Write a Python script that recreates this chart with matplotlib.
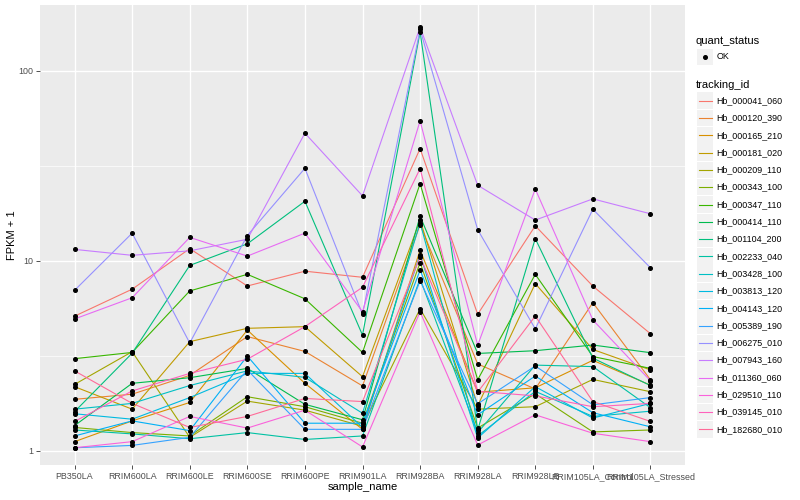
import numpy as np
import matplotlib
matplotlib.use("Agg")
import matplotlib.pyplot as plt
from matplotlib.patches import Rectangle

plt.rcParams['font.family'] = ['Liberation Sans', 'DejaVu Sans']

samples = ["PB350LA", "RRIM600LA", "RRIM600LE", "RRIM600SE", "RRIM600PE", "RRIM901LA",
           "RRIM928BA", "RRIM928LA", "RRIM928LB", "RRIM105LA_Control", "RRIM105LA_Stressed"]

tracking_ids = ["Hb_000041_060", "Hb_000120_390", "Hb_000165_210", "Hb_000181_020",
                "Hb_000209_110", "Hb_000343_100", "Hb_000347_110", "Hb_000414_110",
                "Hb_001104_200", "Hb_002233_040", "Hb_003428_100", "Hb_003813_120",
                "Hb_004143_120", "Hb_005389_190", "Hb_006275_010", "Hb_007943_160",
                "Hb_011360_060", "Hb_029510_110", "Hb_039145_010", "Hb_182680_010"]

# FPKM + 1 per tracking_id, in sample order
hb_000041_060 = [5.12, 7.1, 11.6, 7.38, 8.83, 8.2, 39.0, 5.24, 15.3, 7.37, 4.14]
hb_000120_390 = [1.87, 1.99, 2.5, 4.0, 3.34, 2.2, 15.5, 2.87, 2.12, 6.03, 2.37]
hb_000165_210 = [1.12, 1.44, 1.80, 4.33, 2.27, 1.30, 11.4, 2.04, 2.15, 3.0, 2.22]
hb_000181_020 = [2.18, 1.66, 3.76, 4.42, 4.51, 2.46, 16.4, 1.73, 7.6, 3.42, 2.67]
hb_000209_110 = [2.24, 3.33, 1.18, 1.83, 1.64, 1.35, 5.6, 1.66, 1.71, 2.38, 2.05]
hb_000343_100 = [1.33, 1.25, 1.2, 1.93, 1.71, 1.40, 9.8, 1.32, 2.0, 1.26, 1.29]
hb_000347_110 = [3.06, 3.3, 6.95, 8.5, 6.32, 3.3, 25.5, 2.37, 8.5, 3.14, 2.72]
hb_000414_110 = [1.36, 2.27, 2.43, 2.72, 1.76, 1.46, 17.2, 3.26, 3.37, 3.61, 3.29]
hb_001104_200 = [1.61, 3.27, 9.47, 12.3, 20.6, 4.07, 160.0, 1.29, 13.1, 3.08, 2.21]
hb_002233_040 = [1.29, 1.23, 1.16, 1.25, 1.15, 1.20, 8.05, 1.25, 2.83, 2.78, 1.69]
hb_003428_100 = [1.66, 1.78, 2.21, 2.64, 2.44, 1.58, 15.9, 1.2, 2.06, 1.52, 1.62]
hb_003813_120 = [1.57, 1.47, 1.91, 2.56, 2.56, 1.33, 10.8, 1.17, 2.18, 1.49, 1.78]
hb_004143_120 = [1.20, 1.44, 1.28, 3.16, 1.40, 1.40, 8.95, 1.55, 2.48, 1.59, 1.34]
hb_005389_190 = [1.04, 1.07, 1.18, 2.67, 1.30, 1.30, 7.86, 1.77, 2.8, 1.75, 1.91]
hb_006275_010 = [7.0, 14.0, 3.7, 13.6, 30.7, 5.24, 165.0, 14.6, 4.39, 18.7, 9.2]
hb_007943_160 = [11.5, 10.7, 11.3, 13.0, 47.0, 22.0, 170.0, 25.0, 16.4, 21.2, 17.7]
hb_011360_060 = [4.95, 6.4, 13.3, 10.6, 14.0, 5.4, 54.6, 3.6, 23.9, 4.89, 2.34]
hb_029510_110 = [1.04, 1.12, 1.52, 1.32, 1.64, 1.05, 5.4, 1.075, 1.55, 1.24, 1.12]
hb_039145_010 = [1.43, 2.07, 2.56, 3.04, 4.51, 7.27, 30.6, 2.06, 1.95, 1.71, 1.78]
hb_182680_010 = [2.64, 1.78, 1.33, 1.52, 1.89, 1.82, 10.5, 2.04, 5.13, 1.82, 1.43]

series = [hb_000041_060, hb_000120_390, hb_000165_210, hb_000181_020, hb_000209_110,
          hb_000343_100, hb_000347_110, hb_000414_110, hb_001104_200, hb_002233_040,
          hb_003428_100, hb_003813_120, hb_004143_120, hb_005389_190, hb_006275_010,
          hb_007943_160, hb_011360_060, hb_029510_110, hb_039145_010, hb_182680_010]

colors = ["#F8766D", "#EA8331", "#D89000", "#C09B00", "#A3A500", "#7CAE00", "#39B600",
          "#00BB4E", "#00BF7D", "#00C1A3", "#00BFC4", "#00BAE0", "#00B0F6", "#35A2FF",
          "#9590FF", "#C77CFF", "#E76BF3", "#FA62DB", "#FF62BC", "#FF6A98"]

W, H = 800, 500
fig = plt.figure(figsize=(8, 5), dpi=100)
ax = fig.add_axes([40 / W, 1 - 465 / H, (685 - 40) / W, (465 - 5) / H])
ax.set_facecolor("#EBEBEB")
ax.set_yscale("log")
ax.set_ylim(0.844, 222)
ax.set_xlim(-0.6, len(samples) - 0.4)

# grid
for v in [10 ** 0.5, 10 ** 1.5]:
    ax.axhline(v, color="white", lw=0.5, zorder=0)
for v in [1, 10, 100]:
    ax.axhline(v, color="white", lw=1.0, zorder=0)
for i in range(len(samples)):
    ax.axvline(i, color="white", lw=1.0, zorder=0)

x = np.arange(len(samples))
for vals, c in zip(series, colors):
    ax.plot(x, vals, color=c, lw=0.8, zorder=2)
for vals in series:
    ax.plot(x, vals, linestyle="none", marker="o", ms=2.6, color="black", zorder=3)

for s in ax.spines.values():
    s.set_visible(False)
ax.set_xticks(x)
ax.set_xticklabels(samples)
ax.set_yticks([1, 10, 100])
ax.set_yticklabels(["1", "10", "100"])
ax.yaxis.set_minor_locator(matplotlib.ticker.NullLocator())
ax.tick_params(axis="both", which="major", length=3, width=0.6, color="#333333",
               labelsize=6.4, labelcolor="#4D4D4D", pad=2)
ax.set_xlabel("sample_name", fontsize=8, labelpad=1)
fig.text(12 / W, 1 - 235 / H, "FPKM + 1", fontsize=8, rotation=90, ha="center", va="center")

# legend (drawn manually, pixel coordinates)
lax = fig.add_axes([0, 0, 1, 1])
lax.set_xlim(0, W)
lax.set_ylim(H, 0)
lax.axis("off")
lax.text(696, 40.5, "quant_status", fontsize=8, va="center", ha="left")
lax.add_patch(Rectangle((697, 48.5), 16, 16.5, facecolor="#F2F2F2", edgecolor="none"))
lax.plot([705], [56.7], marker="o", ms=2.6, color="black")
lax.text(716.5, 56.7, "OK", fontsize=6.4, va="center", ha="left")
lax.text(696, 84.5, "tracking_id", fontsize=8, va="center", ha="left")
for i, (tid, c) in enumerate(zip(tracking_ids, colors)):
    yc = 100.7 + i * 17.3
    lax.add_patch(Rectangle((697, yc - 8.3), 16, 16.6, facecolor="#F2F2F2", edgecolor="none"))
    lax.plot([698.5, 711.5], [yc, yc], color=c, lw=0.8)
    lax.text(716.5, yc, tid, fontsize=6.4, va="center", ha="left")

fig.savefig("out.png", dpi=100, facecolor="white")
